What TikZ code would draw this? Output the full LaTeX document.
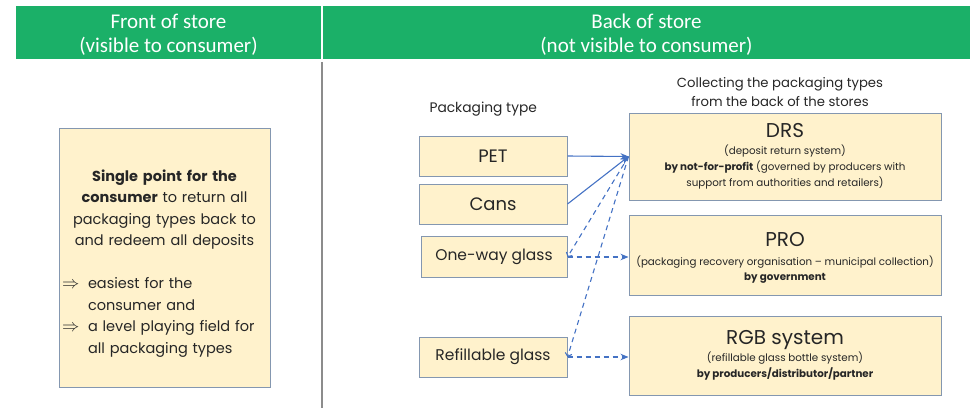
\documentclass[tikz,border=0pt]{standalone}
\usepackage{fontspec}
\setmainfont{Poppins}
\newfontfamily\headfont{Carlito}
\usetikzlibrary{arrows.meta, calc}

\definecolor{storegreen}{RGB}{27,176,104}
\definecolor{boxfill}{RGB}{255,242,204}
\definecolor{boxline}{RGB}{132,151,176}
\definecolor{flowblue}{RGB}{68,114,196}
\definecolor{divgray}{RGB}{140,140,140}
\newcommand\systitlefont{\fontsize{20}{20}\selectfont}
\newcommand\thenarrow{\makebox[26pt][l]{\fontsize{19}{19}\selectfont$\Rightarrow$}}

\begin{document}
\begin{tikzpicture}[x=1pt, y=-1pt, >={Stealth[length=8pt, width=6.5pt]},
    header/.style={fill=storegreen, text=white, align=center, inner sep=0pt,
      minimum height=53pt, font=\headfont\fontsize{21}{24}\selectfont},
    packbox/.style={draw=boxline, fill=boxfill, line width=1pt, inner sep=0pt,
      minimum width=148pt, minimum height=40pt, text=black!85},
    sysbox/.style={draw=boxline, fill=boxfill, line width=1pt, inner sep=0pt,
      minimum width=312pt, align=center, text=black!85,
      font=\fontsize{10.3}{16}\selectfont},
    flow/.style={flowblue, line width=1.1pt},
    flowdash/.style={flow, dash pattern=on 5pt off 4pt},
    divider/.style={divgray, line width=2pt}]
  \useasboundingbox (0,0) rectangle (973,408);

  % Header
  \node[header, minimum width=305pt] (front) at (168.5,32.5) {\rule{0pt}{19pt}Front of store\\(visible to consumer)};
  \node[header, minimum width=647pt] (back) at (646.5,32.5) {\rule{0pt}{19pt}Back of store\\(not visible to consumer)};
  \draw[divider] (322,62) -- (322,408);

  % Front of store
  \node[draw=boxline, fill=boxfill, line width=1pt, text=black!85, align=left,
    text width=205pt, inner xsep=3pt, inner ysep=0pt, minimum height=259pt,
    font=\fontsize{14.5}{21.5}\selectfont] (single) at (164.5,257.5) {%
    {\centering\rule{0pt}{23pt}\textbf{Single point for the}\\\textbf{consumer} to return all\\packaging types back to\\and redeem all deposits\par}
    \vspace{21.5pt}
    \thenarrow easiest for the\\
    \hspace*{26pt}consumer and\\
    \thenarrow a level playing field for\\
    \hspace*{26pt}all packaging types};

  % Labels
  \node[anchor=west, text=black!85, font=\fontsize{13.8}{18}\selectfont] (ptype) at (426,109) {Packaging type};
  \node[align=center, text=black!85, font=\fontsize{13.2}{18.5}\selectfont] (collect) at (780,92) {Collecting the packaging types\\from the back of the stores};

  % Packaging types
  \node[packbox, font=\fontsize{18}{18}\selectfont] (pet) at (493,156) {PET};
  \node[packbox, font=\fontsize{18}{18}\selectfont] (cans) at (493,204) {Cans};
  \node[packbox, minimum width=146pt, minimum height=41pt, font=\fontsize{15.5}{18}\selectfont] (oneway) at (494,257) {One-way glass};
  \node[packbox, font=\fontsize{15.5}{18}\selectfont] (refill) at (493,357) {Refillable glass};

  % Collection systems
  \node[sysbox, minimum height=87pt] (drs) at (785,156.5) {{\systitlefont DRS}\\[1pt]
    (deposit return system)\\
    \textbf{by not-for-profit} (governed by producers with\\
    support from authorities and retailers)};
  \node[sysbox, minimum height=80pt] (pro) at (785,255) {{\systitlefont\rule{0pt}{20pt}PRO}\\[3pt]
    (packaging recovery organisation -- municipal collection)\\[-1pt]
    \textbf{by government}};
  \node[sysbox, minimum height=79pt] (rgb) at (785,355.5) {{\systitlefont RGB system}\\[1pt]
    (refillable glass bottle system)\\
    \textbf{by producers/distributor/partner}};

  % Edges
  \draw[flow, ->] (pet.east) -- (drs.west);
  \draw[flow, ->] (cans.east) -- (drs.west);
  \draw[flowdash, -{Straight Barb[length=3pt, width=7pt]}] (drs.west) -- (oneway.east);
  \draw[flowdash, -{Straight Barb[length=3pt, width=7pt]}] (drs.west) -- (refill.east);
  \draw[flowdash, ->] (oneway.east) -- (oneway.east -| pro.west);
  \draw[flowdash, ->] (refill.east) -- (refill.east -| rgb.west);
\end{tikzpicture}
\end{document}
